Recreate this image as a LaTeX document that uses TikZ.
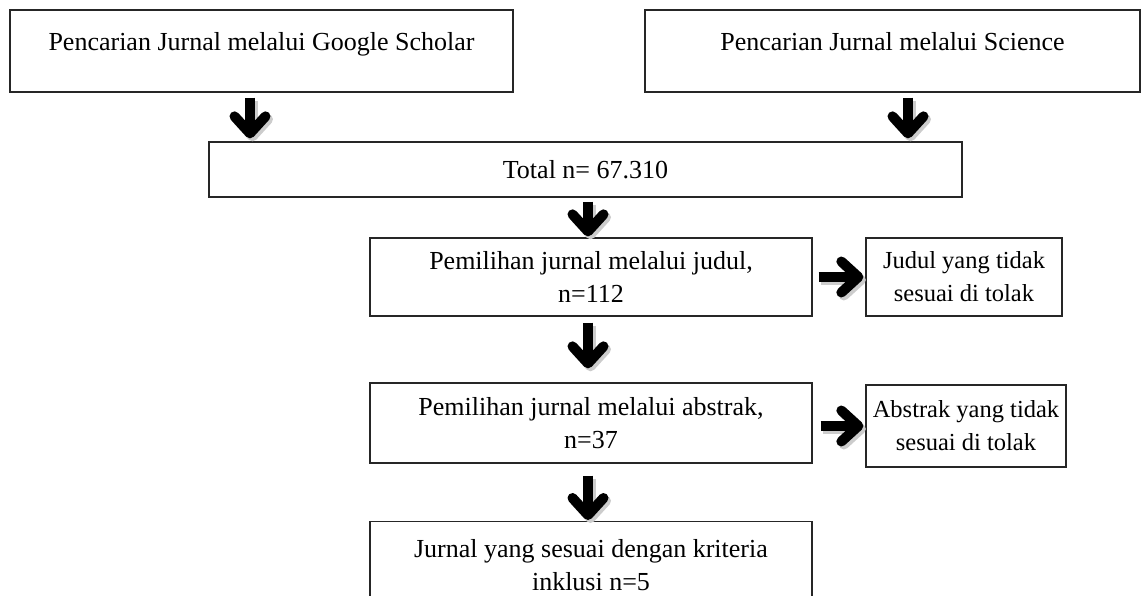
\documentclass[tikz,border=0pt]{standalone}
\usepackage{fontspec}
\setmainfont{Liberation Serif}
\usetikzlibrary{arrows.meta}
\begin{document}
\begin{tikzpicture}[x=1pt,y=-1pt,
  box/.style={draw=black!85, line width=1.3pt, align=center,
    font=\fontsize{26}{33}\selectfont, inner sep=0pt},
  sidebox/.style={box, font=\fontsize{24.5}{33}\selectfont},
  bigarrow/.style={line width=10pt, black,
    -{Straight Barb[length=17pt,width=31pt,line width=10pt,round]}},
  shadowarrow/.style={bigarrow, draw=black!20}]
\clip (0,0) rectangle (1144,596);
\useasboundingbox (0,0) rectangle (1144,596);

\node[box, minimum width=503, minimum height=82, text height=10pt, text depth=10pt]
  (google) at (261.5,51) {Pencarian Jurnal melalui Google Scholar};
\node[box, minimum width=495, minimum height=82, text height=10pt, text depth=10pt]
  (science) at (892.5,51) {Pencarian Jurnal melalui Science};
\node[box, minimum width=753, minimum height=55] (total) at (585.5,169.5) {Total n= 67.310};
\node[box, minimum width=442, minimum height=78] (judul) at (591,277)
  {Pemilihan jurnal melalui judul,\\ n=112};
\node[sidebox, minimum width=196, minimum height=78] (tolak1) at (964,277)
  {Judul yang tidak\\ sesuai di tolak};
\node[box, minimum width=442, minimum height=80] (abstrak) at (591,423)
  {Pemilihan jurnal melalui abstrak,\\ n=37};
\node[sidebox, minimum width=200, minimum height=82] (tolak2) at (966,426)
  {Abstrak yang tidak\\ sesuai di tolak};
\node[box, minimum width=442, minimum height=86, anchor=north] (final) at (591,521)
  {Jurnal yang sesuai dengan kriteria\\ inklusi n=5};

\coordinate (a1) at (250,0);
\coordinate (a2) at (908,0);
\coordinate (a3) at (588,0);

\begin{scope}[transform canvas={shift={(2.5pt,-3pt)}}]
\draw[shadowarrow] ([yshift=-5pt]google.south -| a1) -- ([yshift=3pt]total.north -| a1);
\draw[shadowarrow] ([yshift=-5pt]science.south -| a2) -- ([yshift=3pt]total.north -| a2);
\draw[shadowarrow] ([yshift=-4pt]total.south -| a3) -- ([yshift=1pt]judul.north -| a3);
\draw[shadowarrow] ([yshift=-6pt]judul.south -| a3) -- ([yshift=14pt]abstrak.north -| a3);
\draw[shadowarrow] ([yshift=-12pt]abstrak.south -| a3) -- ([yshift=1pt]final.north -| a3);
\draw[shadowarrow] ([xshift=6pt]judul.east) -- ([xshift=-2pt]tolak1.west);
\draw[shadowarrow] ([xshift=8pt]abstrak.east |- tolak2.west) -- ([xshift=-2pt]tolak2.west);
\end{scope}

\draw[bigarrow] ([yshift=-5pt]google.south -| a1) -- ([yshift=3pt]total.north -| a1);
\draw[bigarrow] ([yshift=-5pt]science.south -| a2) -- ([yshift=3pt]total.north -| a2);
\draw[bigarrow] ([yshift=-4pt]total.south -| a3) -- ([yshift=1pt]judul.north -| a3);
\draw[bigarrow] ([yshift=-6pt]judul.south -| a3) -- ([yshift=14pt]abstrak.north -| a3);
\draw[bigarrow] ([yshift=-12pt]abstrak.south -| a3) -- ([yshift=1pt]final.north -| a3);
\draw[bigarrow] ([xshift=6pt]judul.east) -- ([xshift=-2pt]tolak1.west);
\draw[bigarrow] ([xshift=8pt]abstrak.east |- tolak2.west) -- ([xshift=-2pt]tolak2.west);
\end{tikzpicture}
\end{document}
